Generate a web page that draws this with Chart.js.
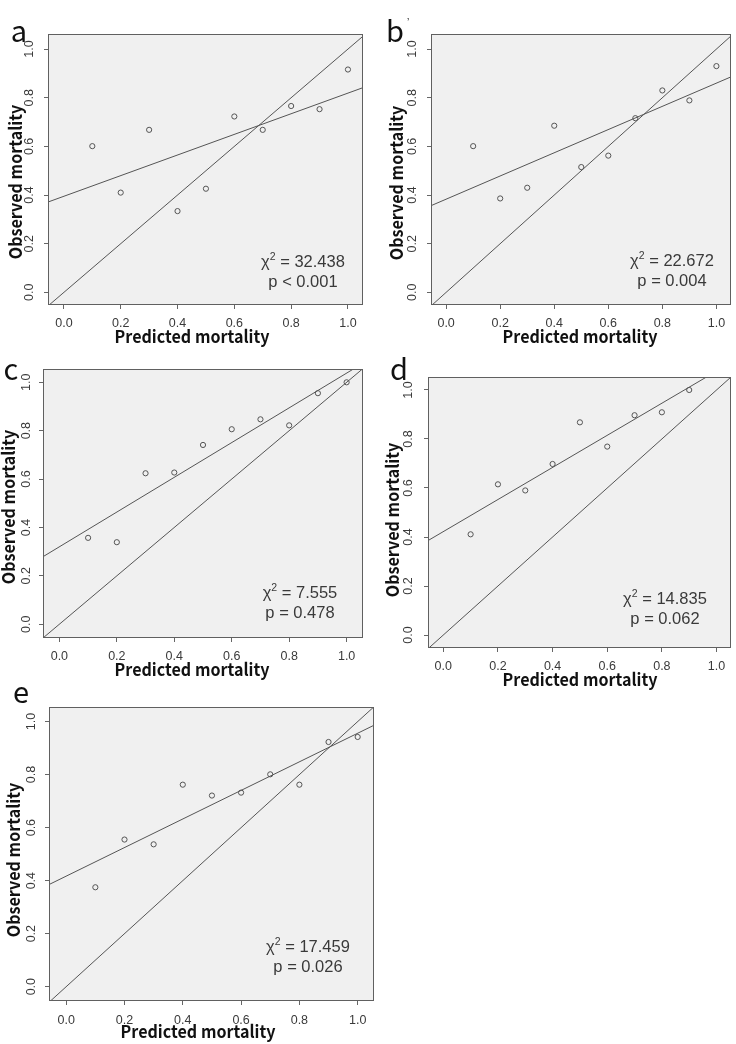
<!DOCTYPE html>
<html><head><meta charset="utf-8">
<script src="https://cdn.jsdelivr.net/npm/chart.js@4/dist/chart.umd.min.js"></script>
<style>
html,body{margin:0;padding:0;background:#fff;}
#wrap{position:relative;width:736px;height:1044px;overflow:hidden;background:#fff;}
canvas{position:absolute;left:0;top:0;}
</style></head><body><div id="wrap"></div>
<script>
// ---- data ----
const panelLetters = ['a', 'b', 'c', 'd', 'e'];
const predictedA = [0.1, 0.2, 0.3, 0.4, 0.5, 0.6, 0.7, 0.8, 0.9, 1.0];
const observedA  = [0.601, 0.410, 0.668, 0.334, 0.426, 0.723, 0.668, 0.766, 0.753, 0.916];
const predictedB = [0.1, 0.2, 0.3, 0.4, 0.5, 0.6, 0.7, 0.8, 0.9, 1.0];
const observedB  = [0.601, 0.386, 0.430, 0.685, 0.515, 0.562, 0.716, 0.830, 0.789, 0.930];
const predictedC = [0.1, 0.2, 0.3, 0.4, 0.5, 0.6, 0.7, 0.8, 0.9, 1.0];
const observedC  = [0.357, 0.339, 0.624, 0.627, 0.741, 0.806, 0.847, 0.822, 0.955, 1.000];
const predictedD = [0.1, 0.2, 0.3, 0.4, 0.5, 0.6, 0.7, 0.8, 0.9];
const observedD  = [0.411, 0.615, 0.590, 0.698, 0.868, 0.769, 0.897, 0.909, 1.000];
const predictedE = [0.1, 0.2, 0.3, 0.4, 0.5, 0.6, 0.7, 0.8, 0.9, 1.0];
const observedE  = [0.375, 0.555, 0.537, 0.762, 0.721, 0.732, 0.801, 0.762, 0.923, 0.942];
const fitIntercepts = [0.395, 0.383, 0.320, 0.422, 0.417];
const fitSlopes     = [0.424, 0.477, 0.718, 0.655, 0.539];
const chiSquares = ['32.438', '22.672', '7.555', '14.835', '17.459'];
const pTexts = ['p < 0.001', 'p = 0.004', 'p = 0.478', 'p = 0.062', 'p = 0.026'];
const tickValues = [0, 0.2, 0.4, 0.6, 0.8, 1.0];
const tickLabels = ['0.0', '0.2', '0.4', '0.6', '0.8', '1.0'];
const xTitle = 'Predicted mortality';
const yTitle = 'Observed mortality';

const predictedAll = [predictedA, predictedB, predictedC, predictedD, predictedE];
const observedAll = [observedA, observedB, observedC, observedD, observedE];

// ---- layout (page pixels) ----
const layouts = [
  {L:48, T:34, R:363, B:305, xr:[-0.056,1.053], yr:[-0.052,1.062], letter:[19,42], yT:[15,182], xT:[192,336], xTickY:324, yTickX:30, chi:[303,262]},
  {L:431,T:34, R:733, B:305, xr:[-0.056,1.054], yr:[-0.052,1.062], letter:[395,42], yT:[396,183], xT:[580,336], xTickY:324, yTickX:413, chi:[672,261]},
  {L:43, T:369,R:363, B:638, xr:[-0.057,1.057], yr:[-0.057,1.055], letter:[11,380], yT:[8,507], xT:[192,669], xTickY:657, yTickX:27, chi:[300,593]},
  {L:428,T:377,R:733, B:648, xr:[-0.056,1.053], yr:[-0.053,1.053], letter:[399,380], yT:[392,520], xT:[580,679], xTickY:667, yTickX:409, chi:[665,599]},
  {L:49, T:707,R:374, B:1001,xr:[-0.059,1.056], yr:[-0.054,1.055], letter:[21,703], yT:[13,860], xT:[198,1031], xTickY:1021, yTickX:32, chi:[308,947]}
];

const W = 736, H = 1044, TICK = 4;
const lineColor = '#555';
const textColor = '#3a3a3a';
const titleFont = 'bold 17.5px "Noto Sans CJK KR", "Noto Sans", sans-serif';
const titleSqueeze = 0.92;
const tickFont = '12.5px "Liberation Sans", Arial, sans-serif';
const chiFont = '16.5px "Liberation Sans", Arial, sans-serif';
const letterFont = '29px "Noto Sans CJK KR", "Liberation Sans", sans-serif';

const panelPlugin = {
  id: 'panelDecor',
  beforeDraw(chart) {
    const a = chart.chartArea, ctx = chart.ctx;
    ctx.save();
    ctx.fillStyle = '#f0f0f0';
    ctx.fillRect(a.left, a.top, a.right - a.left, a.bottom - a.top);
    ctx.restore();
  },
  afterDraw(chart) {
    const i = chart.options.plugins.panelDecor.index;
    const lay = layouts[i];
    const a = chart.chartArea, ctx = chart.ctx;
    const xs = chart.scales.x, ys = chart.scales.y;
    ctx.save();
    // box
    ctx.strokeStyle = '#606060';
    ctx.lineWidth = 1;
    ctx.strokeRect(Math.round(a.left) + 0.5, Math.round(a.top) + 0.5, Math.round(a.right - a.left) - 1, Math.round(a.bottom - a.top) - 1);
    // x tick labels
    ctx.fillStyle = textColor;
    ctx.font = tickFont;
    ctx.textAlign = 'center';
    ctx.textBaseline = 'middle';
    tickValues.forEach((v, k) => {
      ctx.fillText(tickLabels[k], xs.getPixelForValue(v), lay.xTickY);
    });
    // y tick labels (rotated)
    tickValues.forEach((v, k) => {
      ctx.save();
      ctx.translate(lay.yTickX, ys.getPixelForValue(v));
      ctx.rotate(-Math.PI / 2);
      ctx.fillText(tickLabels[k], 0, 0);
      ctx.restore();
    });
    // titles
    ctx.fillStyle = '#111';
    ctx.font = titleFont;
    ctx.save();
    ctx.translate(lay.xT[0], lay.xT[1]);
    ctx.scale(titleSqueeze, 1);
    ctx.fillText(xTitle, 0, 0);
    ctx.restore();
    ctx.save();
    ctx.translate(lay.yT[0], lay.yT[1]);
    ctx.rotate(-Math.PI / 2);
    ctx.scale(titleSqueeze, 1);
    ctx.fillText(yTitle, 0, 0);
    ctx.restore();
    // letter
    ctx.font = letterFont;
    ctx.textBaseline = 'alphabetic';
    ctx.fillStyle = '#111';
    ctx.fillText(panelLetters[i], lay.letter[0], lay.letter[1]);
    if (i === 1) {
      ctx.font = '10px "Liberation Sans", sans-serif';
      ctx.fillText('\u2019', lay.letter[0] + 13, lay.letter[1] - 16);
    }
    // chi-square text
    ctx.fillStyle = textColor;
    ctx.textBaseline = 'middle';
    ctx.font = chiFont;
    const p1 = '\u03C7', p3 = ' = ' + chiSquares[i];
    const w1 = ctx.measureText(p1).width, w3 = ctx.measureText(p3).width;
    ctx.font = '10.5px "Liberation Sans", Arial, sans-serif';
    const w2 = ctx.measureText('2').width;
    const total = w1 + w2 + w3;
    let x0 = lay.chi[0] - total / 2;
    ctx.textAlign = 'left';
    ctx.font = chiFont;
    ctx.fillText(p1, x0, lay.chi[1]);
    ctx.font = '10.5px "Liberation Sans", Arial, sans-serif';
    ctx.fillText('2', x0 + w1, lay.chi[1] - 5);
    ctx.font = chiFont;
    ctx.fillText(p3, x0 + w1 + w2, lay.chi[1]);
    ctx.textAlign = 'center';
    ctx.fillText(pTexts[i], lay.chi[0], lay.chi[1] + 20);
    ctx.restore();
  }
};

const wrap = document.getElementById('wrap');
layouts.forEach((lay, i) => {
  const cv = document.createElement('canvas');
  cv.width = W; cv.height = H;
  cv.style.width = W + 'px'; cv.style.height = H + 'px';
  wrap.appendChild(cv);
  const xmin = lay.xr[0], xmax = lay.xr[1];
  const b0 = fitIntercepts[i], b1 = fitSlopes[i];
  const points = predictedAll[i].map((x, k) => ({x: x, y: observedAll[i][k]}));
  new Chart(cv, {
    type: 'scatter',
    data: {
      datasets: [
        {data: points, pointStyle: 'circle', pointRadius: 2.6, pointBorderWidth: 1, pointBorderColor: lineColor, pointBackgroundColor: 'rgba(0,0,0,0)', showLine: false},
        {data: [{x: xmin, y: xmin}, {x: xmax, y: xmax}], showLine: true, borderColor: lineColor, borderWidth: 1, pointRadius: 0},
        {data: [{x: xmin, y: b0 + b1 * xmin}, {x: xmax, y: b0 + b1 * xmax}], showLine: true, borderColor: lineColor, borderWidth: 1, pointRadius: 0}
      ]
    },
    options: {
      responsive: false,
      animation: false,
      events: [],
      layout: {padding: {left: lay.L - TICK, top: lay.T, right: W - lay.R, bottom: H - lay.B - TICK}},
      plugins: {legend: {display: false}, tooltip: {enabled: false}, panelDecor: {index: i}},
      scales: {
        x: {
          type: 'linear', min: lay.xr[0], max: lay.xr[1],
          afterBuildTicks: s => { s.ticks = tickValues.map(v => ({value: v})); },
          afterFit: s => { s.height = TICK; },
          ticks: {display: false},
          grid: {drawOnChartArea: false, drawTicks: true, tickLength: TICK, color: '#666', lineWidth: 1},
          border: {display: false}
        },
        y: {
          type: 'linear', min: lay.yr[0], max: lay.yr[1],
          afterBuildTicks: s => { s.ticks = tickValues.map(v => ({value: v})); },
          afterFit: s => { s.width = TICK; },
          ticks: {display: false},
          grid: {drawOnChartArea: false, drawTicks: true, tickLength: TICK, color: '#666', lineWidth: 1},
          border: {display: false}
        }
      }
    },
    plugins: [panelPlugin]
  });
});
</script>
</body></html>
